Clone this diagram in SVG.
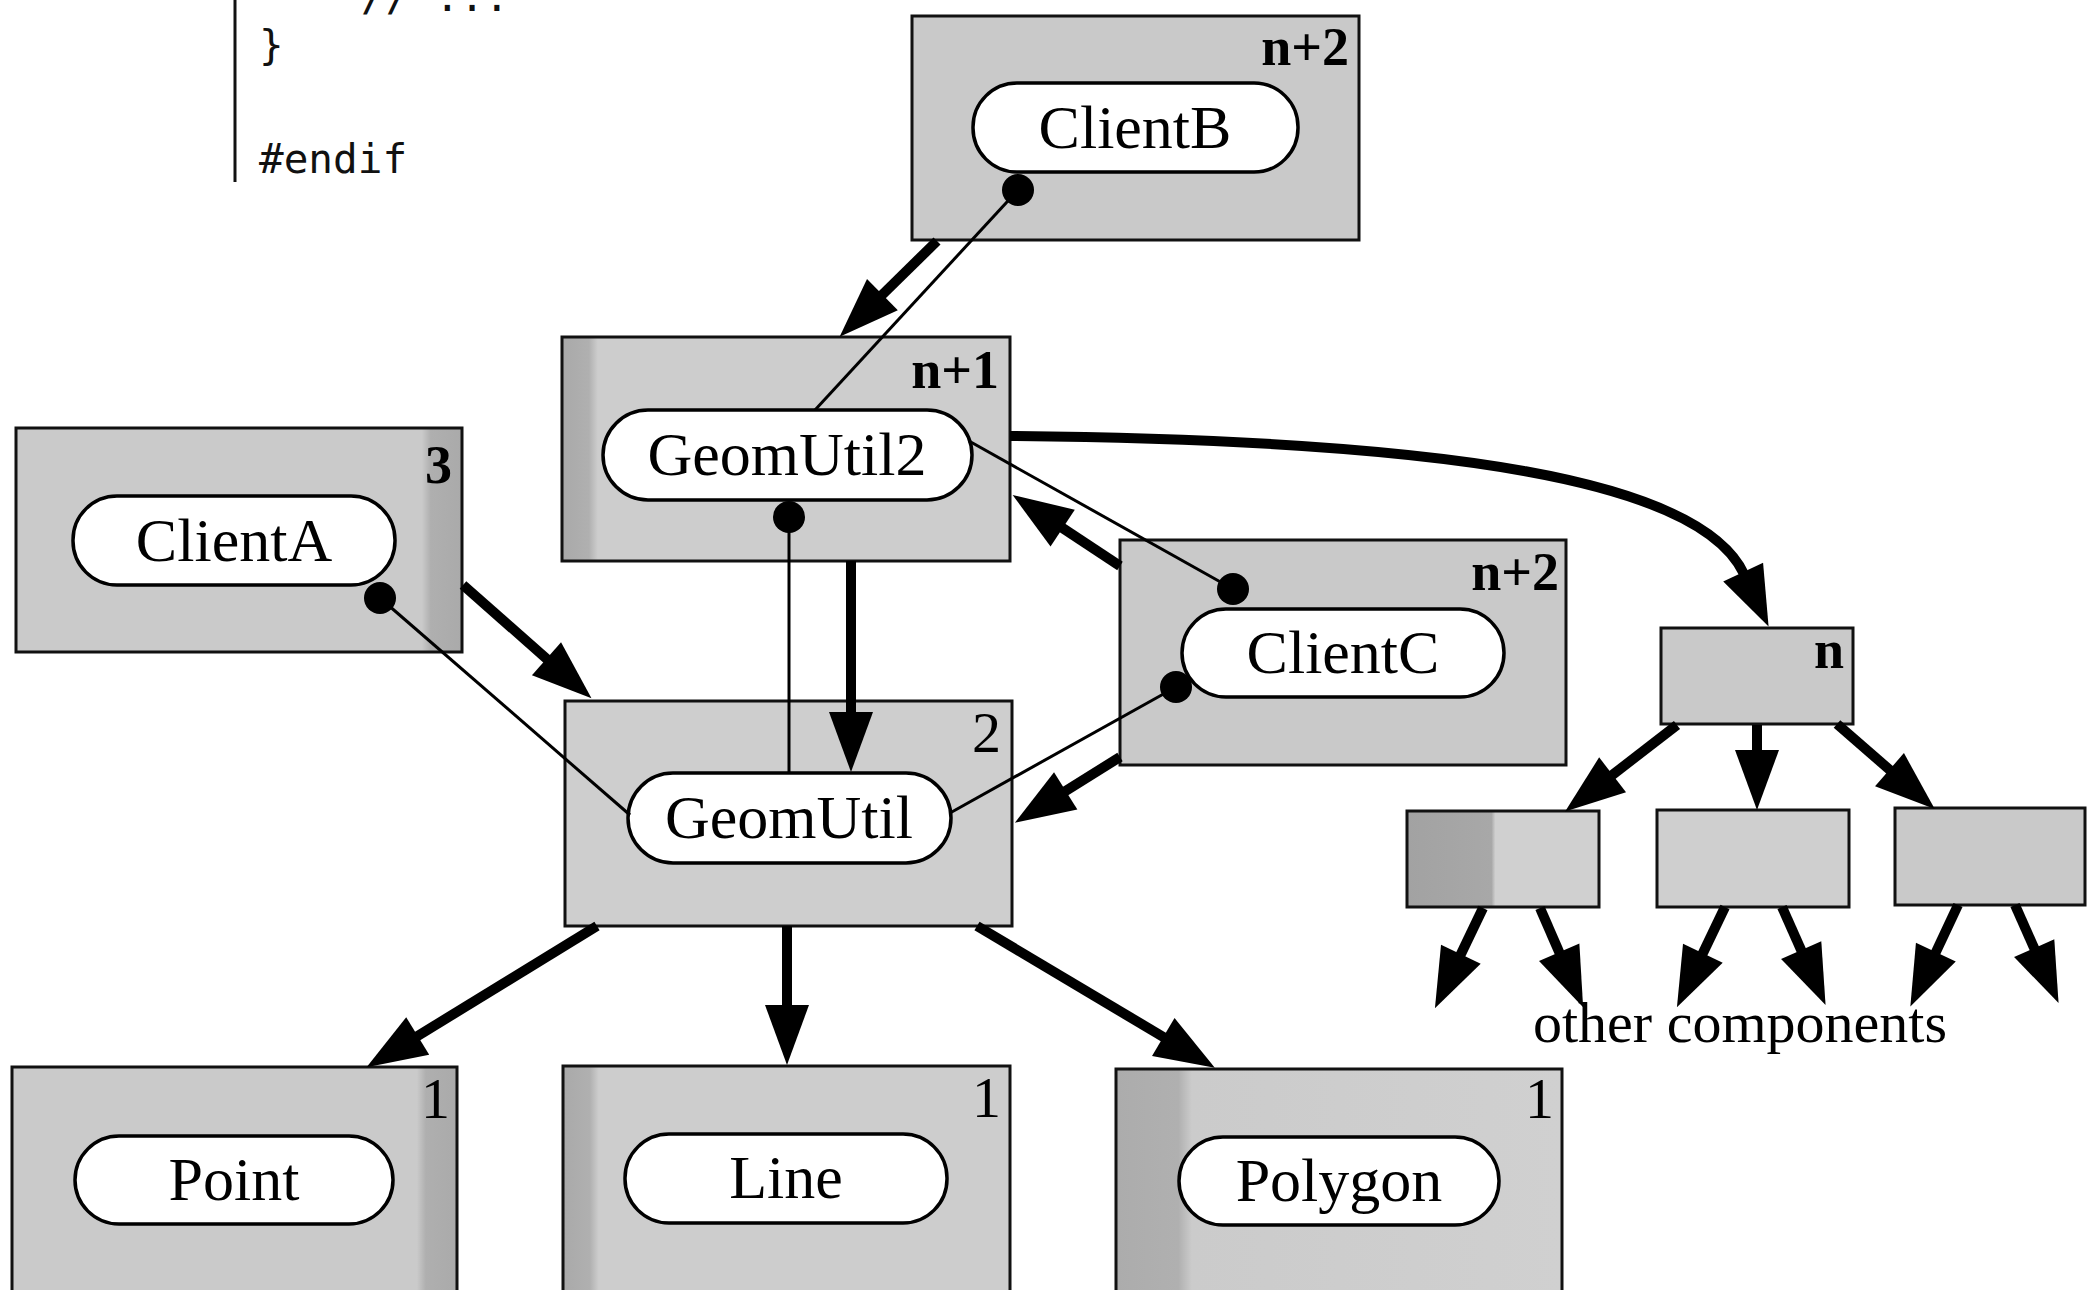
<svg xmlns="http://www.w3.org/2000/svg" width="2096" height="1290" viewBox="0 0 2096 1290">
<style>
.box{fill:#c9c9c9;stroke:#111;stroke-width:3}
.pill{fill:#fff;stroke:#000;stroke-width:3.5}
.lbl{font-family:"Liberation Serif","Times New Roman",serif;font-size:62px;text-anchor:middle;fill:#000}
.numb{font-family:"Liberation Serif","Times New Roman",serif;font-size:54px;font-weight:bold;text-anchor:end;fill:#000}
.num{font-family:"Liberation Serif","Times New Roman",serif;font-size:58px;text-anchor:end;fill:#000}
.thick{stroke:#000;stroke-width:10;fill:none;marker-end:url(#ah)}
.thin{stroke:#000;stroke-width:3;fill:none}
.dot{fill:#000}
.code{font-family:"DejaVu Sans Mono","Liberation Mono",monospace;font-size:41px;fill:#111}
.note{font-family:"Liberation Serif","Times New Roman",serif;font-size:56px;fill:#000}
</style>
<defs>
<marker id="ah" markerUnits="userSpaceOnUse" orient="auto" refX="0" refY="0" markerWidth="62" markerHeight="46" viewBox="-2 -23 62 46" overflow="visible">
<path d="M-2,-22 L58,0 L-2,22 Z" fill="#000"/>
</marker>
<linearGradient id="gLeft" x1="0" y1="0" x2="1" y2="0">
<stop offset="0" stop-color="#a9a9a9"/><stop offset="0.06" stop-color="#b0b0b0"/><stop offset="0.08" stop-color="#cdcdcd"/><stop offset="1" stop-color="#cdcdcd"/>
</linearGradient>
<linearGradient id="gRight" x1="0" y1="0" x2="1" y2="0">
<stop offset="0" stop-color="#cacaca"/><stop offset="0.91" stop-color="#cacaca"/><stop offset="0.93" stop-color="#afafaf"/><stop offset="1" stop-color="#aaaaaa"/>
</linearGradient>
<linearGradient id="gPoly" x1="0" y1="0" x2="1" y2="0">
<stop offset="0" stop-color="#acacac"/><stop offset="0.14" stop-color="#b0b0b0"/><stop offset="0.17" stop-color="#cbcbcb"/><stop offset="1" stop-color="#d0d0d0"/>
</linearGradient>
<linearGradient id="gB1" x1="0" y1="0" x2="1" y2="0">
<stop offset="0" stop-color="#a2a2a2"/><stop offset="0.44" stop-color="#a8a8a8"/><stop offset="0.46" stop-color="#d0d0d0"/><stop offset="1" stop-color="#d0d0d0"/>
</linearGradient>
</defs>

<g id="code">
<line x1="235" y1="0" x2="235" y2="182" stroke="#111" stroke-width="3"/>
<text class="code" x="361" y="11">// ...</text>
<text class="code" x="259" y="59">}</text>
<text class="code" x="259" y="173">#endif</text>
</g>

<g id="node-clientb">
<rect class="box" x="912" y="16" width="447" height="224"/>
<text class="numb" x="1349" y="65">n+2</text>
<rect class="pill" x="973" y="83" width="325" height="89" rx="44"/>
<text class="lbl" x="1135" y="148">ClientB</text>
</g>

<g id="node-geomutil2">
<rect class="box" x="562" y="337" width="448" height="224" style="fill:url(#gLeft)"/>
<text class="numb" x="999" y="388">n+1</text>
<rect class="pill" x="603" y="410" width="369" height="90" rx="45"/>
<text class="lbl" x="787" y="475">GeomUtil2</text>
</g>

<g id="node-clienta">
<rect class="box" x="16" y="428" width="446" height="224" style="fill:url(#gRight)"/>
<text class="numb" x="452" y="483">3</text>
<rect class="pill" x="73" y="496" width="322" height="89" rx="44"/>
<text class="lbl" x="234" y="561">ClientA</text>
</g>

<g id="node-clientc">
<rect class="box" x="1120" y="540" width="446" height="225"/>
<text class="numb" x="1559" y="590">n+2</text>
<rect class="pill" x="1182" y="609" width="322" height="88" rx="44"/>
<text class="lbl" x="1343" y="673">ClientC</text>
</g>

<g id="node-geomutil">
<rect class="box" x="565" y="701" width="447" height="225" style="fill:#cecece"/>
<text class="num" x="1001" y="752">2</text>
<rect class="pill" x="628" y="773" width="323" height="90" rx="45"/>
<text class="lbl" x="789" y="838">GeomUtil</text>
</g>

<g id="node-n">
<rect class="box" x="1661" y="628" width="192" height="96"/>
<text class="numb" x="1844" y="668">n</text>
</g>

<g id="node-sub1">
<rect class="box" x="1407" y="811" width="192" height="96" style="fill:url(#gB1)"/>
</g>
<g id="node-sub2">
<rect class="box" x="1657" y="810" width="192" height="97" style="fill:#cfcfcf"/>
</g>
<g id="node-sub3">
<rect class="box" x="1895" y="808" width="190" height="97"/>
</g>

<g id="node-point">
<rect class="box" x="12" y="1067" width="445" height="240" style="fill:url(#gRight)"/>
<text class="num" x="450" y="1118">1</text>
<rect class="pill" x="75" y="1136" width="318" height="88" rx="44"/>
<text class="lbl" x="234" y="1200">Point</text>
</g>

<g id="node-line">
<rect class="box" x="563" y="1066" width="447" height="240" style="fill:url(#gLeft)"/>
<text class="num" x="1001" y="1117">1</text>
<rect class="pill" x="625" y="1134" width="322" height="89" rx="44"/>
<text class="lbl" x="786" y="1198">Line</text>
</g>

<g id="node-polygon">
<rect class="box" x="1116" y="1069" width="446" height="240" style="fill:url(#gPoly)"/>
<text class="num" x="1554" y="1118">1</text>
<rect class="pill" x="1179" y="1137" width="320" height="88" rx="44"/>
<text class="lbl" x="1339" y="1201">Polygon</text>
</g>

<g id="other-label">
<text class="note" x="1740" y="1042" text-anchor="middle" textLength="414" lengthAdjust="spacingAndGlyphs">other components</text>
</g>

<g id="connectors">
<line class="thin" x1="1018" y1="190" x2="815" y2="410"/>
<circle class="dot" cx="1018" cy="190" r="16"/>
<line class="thin" x1="789" y1="517" x2="789" y2="773"/>
<circle class="dot" cx="789" cy="517" r="16"/>
<line class="thin" x1="380" y1="598" x2="630" y2="815"/>
<circle class="dot" cx="380" cy="598" r="16"/>
<line class="thin" x1="1233" y1="589" x2="969" y2="441"/>
<circle class="dot" cx="1233" cy="589" r="16"/>
<line class="thin" x1="1176" y1="687" x2="950" y2="813"/>
<circle class="dot" cx="1176" cy="687" r="16"/>

<path class="thick" d="M937,241 L881,296"/>
<path class="thick" d="M463,585 L548,660"/>
<path class="thick" d="M851,561 L851,714"/>
<path class="thick" d="M1120,566 L1061,527"/>
<path class="thick" d="M1120,757 L1064,792"/>
<path class="thick" d="M597,926 L416,1037"/>
<path class="thick" d="M787,926 L787,1007"/>
<path class="thick" d="M977,926 L1165,1038"/>
<path class="thick" d="M1010,436 C1450,440 1700,480 1744,574"/>
<path class="thick" d="M1677,725 L1611,776"/>
<path class="thick" d="M1757,725 L1757,752"/>
<path class="thick" d="M1837,724 L1891,771"/>
<path class="thick" d="M1483,908 L1460,956"/>
<path class="thick" d="M1540,908 L1560,954"/>
<path class="thick" d="M1725,907 L1702,955"/>
<path class="thick" d="M1782,907 L1802,952"/>
<path class="thick" d="M1958,905 L1935,954"/>
<path class="thick" d="M2015,905 L2035,950"/>
</g>
</svg>
